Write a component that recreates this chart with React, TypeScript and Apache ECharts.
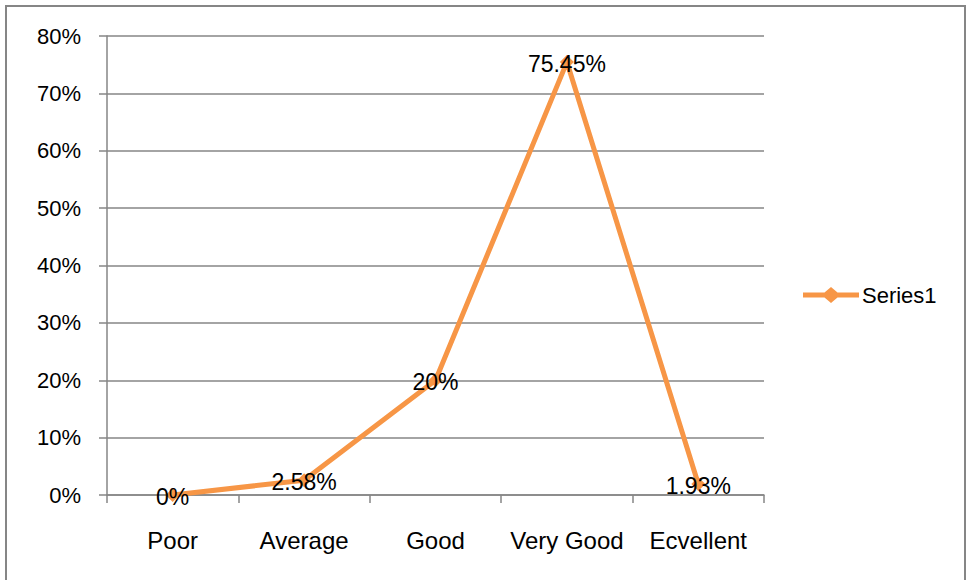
import React, { useEffect, useRef } from "react";
import * as echarts from "echarts";

const categories = ["Poor", "Average", "Good", "Very Good", "Ecvellent"];
const values = [0, 2.58, 20, 75.45, 1.93];
const labels = ["0%", "2.58%", "20%", "75.45%", "1.93%"];
const seriesName = "Series1";

const FONT = "Liberation Sans, Arial, sans-serif";
const LEGEND_ICON =
  "path://M0,5.5 L21.5,5.5 L28,0 L34.5,5.5 L56,5.5 L56,10.5 L34.5,10.5 L28,16 L21.5,10.5 L0,10.5 Z";

export default function App() {
  const ref = useRef<HTMLDivElement>(null);
  useEffect(() => {
    document.body.style.margin = "0";
    const chart = echarts.init(ref.current!, null, { renderer: "svg" });
    chart.setOption({
      animation: false,
      backgroundColor: "#ffffff",
      textStyle: { fontFamily: FONT },
      graphic: [
        {
          type: "rect",
          shape: { x: 6, y: 6, width: 959, height: 590 },
          style: { fill: "none", stroke: "#868686", lineWidth: 2 },
          silent: true,
        },
      ],
      grid: { left: 107, right: 203, top: 36, bottom: 85 },
      legend: {
        show: true,
        orient: "vertical",
        left: 803,
        top: 284,
        padding: 0,
        itemWidth: 56,
        itemHeight: 16,
        itemGap: 4,
        icon: LEGEND_ICON,
        itemStyle: { color: "#F79646", borderWidth: 0 },
        textStyle: { fontSize: 22, color: "#000", fontFamily: FONT, padding: [0, 0, 0, -2] },
        data: [{ name: seriesName, icon: LEGEND_ICON }],
      },
      xAxis: {
        type: "category",
        data: categories,
        boundaryGap: true,
        axisLine: { lineStyle: { color: "#868686", width: 1.5 } },
        axisTick: { show: true, length: 8, alignWithLabel: false, lineStyle: { color: "#868686", width: 1.5 } },
        axisLabel: { fontSize: 24, color: "#000", margin: 33, fontFamily: FONT, interval: 0 },
      },
      yAxis: {
        type: "value",
        min: 0,
        max: 80,
        interval: 10,
        axisLine: { show: true, lineStyle: { color: "#868686", width: 1.5 } },
        axisTick: { show: true, length: 8, lineStyle: { color: "#868686", width: 1.5 } },
        splitLine: { show: true, lineStyle: { color: "#868686", width: 1.5 } },
        axisLabel: { fontSize: 22, color: "#000", margin: 26, formatter: "{value}%", fontFamily: FONT },
      },
      series: [
        {
          name: seriesName,
          type: "line",
          data: values,
          color: "#F79646",
          symbol: "diamond",
          symbolSize: 14,
          lineStyle: { color: "#F79646", width: 5 },
          itemStyle: { color: "#F79646" },
          label: {
            show: true,
            position: "inside",
            offset: [0, 2],
            fontSize: 23,
            color: "#000",
            fontFamily: FONT,
            formatter: (p: any) => labels[p.dataIndex],
          },
        },
      ],
    });
    return () => chart.dispose();
  }, []);
  return <div ref={ref} style={{ width: 967, height: 580 }} />;
}
